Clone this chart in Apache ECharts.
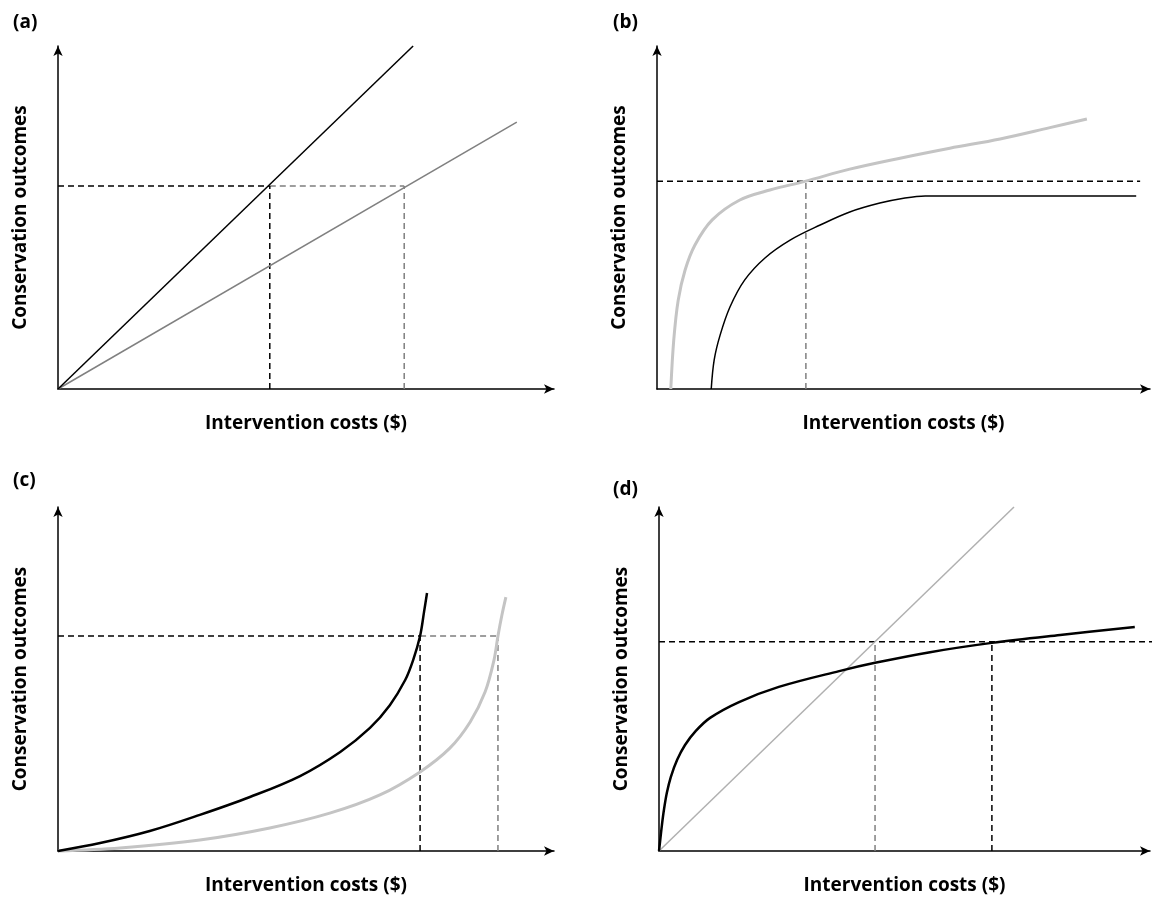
<!DOCTYPE html>
<html>
<head>
<meta charset="utf-8">
<script src="https://cdn.jsdelivr.net/npm/echarts@6/dist/echarts.min.js"></script>
<style>
  html, body { margin: 0; padding: 0; background: #fff; }
  #chart { width: 1157px; height: 897px; }
</style>
</head>
<body>
<div id="chart"></div>
<script>
// panel (a): two straight lines
const aBlack = [[0, 0], [71.6, 100]];
const aGray = [[0, 0], [92.5, 77.8]];
const aTarget = 59.2;
const aBlackCost = 42.7;
const aGrayCost = 69.8;

// panel (b): saturating curves
const bGray = [[2.8, 0], [3.4, 14.3], [4.3, 25.9], [5.7, 34.7], [7.7, 42.0], [11.2, 49.3], [16.8, 55.1],
    [22.9, 58.0], [30.2, 60.6], [39.1, 64.1], [49.3, 67.3], [59.4, 70.2], [69.6, 72.9], [79.7, 76.2], [87.2, 78.7]];
const bBlack = [[11.0, 0], [11.6, 8.5], [12.8, 15.7], [14.8, 23.9], [17.8, 31.8], [21.9, 38.2],
    [27.0, 43.4], [33.1, 47.8], [39.1, 51.6], [45.2, 54.2], [50.3, 55.7], [54.4, 56.3], [97.2, 56.3]];
const bTarget = 60.6;
const bTargetEnd = 98;
const bGrayCost = 30.2;

// panel (c): accelerating curves
const cBlack = [[0, 0], [8.5, 2.3], [18.5, 5.8], [28.6, 10.5], [38.7, 15.7], [48.8, 21.8], [56.9, 28.8],
    [62.9, 35.8], [66.9, 42.4], [70.0, 49.7], [71.6, 55.5], [73.0, 62.5], [73.8, 69.5], [74.4, 75.0]];
const cGray = [[0, 0], [12.5, 0.9], [28.6, 3.2], [42.7, 6.7], [54.8, 11.0], [64.9, 16.3], [73.0, 23.0],
    [79.0, 29.9], [83.1, 37.5], [86.1, 46.2], [87.9, 55.5], [88.7, 62.5], [89.5, 68.6], [90.3, 73.8]];
const cTarget = 62.5;
const cBlackCost = 73.0;
const cGrayCost = 88.7;

// panel (d): straight line vs concave curve
const dGray = [[0, 0], [72.3, 100]];
const dBlack = [[0, 0], [0.3, 3.8], [0.6, 7.6], [1.0, 11.9], [1.6, 16.9], [2.4, 21.5], [3.7, 26.5],
    [5.3, 30.8], [7.5, 34.9], [10.4, 38.7], [16.3, 43.3], [24.4, 47.7], [36.7, 52.3], [44.0, 54.7],
    [55.2, 57.8], [67.8, 60.5], [81.7, 62.8], [96.9, 65.1]];
const dTarget = 60.8;
const dTargetEnd = 101.5;
const dGrayCost = 44.0;
const dBlackCost = 67.8;

const xName = 'Intervention costs ($)';
const yName = 'Conservation outcomes';
const panelLabels = ['(a)', '(b)', '(c)', '(d)'];

const grids = [
    { left: 58, top: 46, width: 496, height: 343 },
    { left: 657, top: 46, width: 493, height: 343 },
    { left: 58, top: 507, width: 496, height: 344 },
    { left: 659, top: 507, width: 491, height: 344 }
];

const FONT = '"Open Sans", "Noto Sans", sans-serif';
const BLACK = '#000000';
const DASH_GRAY = '#7f7f7f';

const axisLine = {
    show: true,
    onZero: false,
    symbol: ['none', 'arrow'],
    symbolSize: [7, 10],
    lineStyle: { color: '#000', width: 1.5 }
};

const titleStyle = { fontFamily: FONT, fontWeight: 'bold', fontSize: 19, color: '#000' };

const xAxes = grids.map((g, i) => ({
    type: 'value', gridIndex: i, min: 0, max: 100,
    axisLine: axisLine, axisTick: { show: false }, axisLabel: { show: false }, splitLine: { show: false },
    name: xName, nameLocation: 'middle', nameGap: 25,
    nameTextStyle: titleStyle
}));

const yAxes = grids.map((g, i) => ({
    type: 'value', gridIndex: i, min: 0, max: 100,
    axisLine: axisLine, axisTick: { show: false }, axisLabel: { show: false }, splitLine: { show: false },
    name: yName, nameLocation: 'middle', nameGap: 28,
    nameTextStyle: titleStyle
}));

const line = (i, data, color, width, opts) => Object.assign({
    type: 'line', xAxisIndex: i, yAxisIndex: i, data: data,
    symbol: 'none', silent: true, clip: false,
    lineStyle: { color: color, width: width }
}, opts || {});

const dashed = (i, data, color) => line(i, data, color, 1.5, {
    lineStyle: { color: color, width: 1.5, type: [6, 4] }
});

const curve = { smooth: 0.35 };

const series = [
    // (a)
    dashed(0, [[0, aTarget], [aBlackCost, aTarget]], BLACK),
    dashed(0, [[aBlackCost, aTarget], [aGrayCost, aTarget]], DASH_GRAY),
    dashed(0, [[aBlackCost, 0], [aBlackCost, aTarget]], BLACK),
    dashed(0, [[aGrayCost, 0], [aGrayCost, aTarget]], DASH_GRAY),
    line(0, aGray, '#808080', 1.5),
    line(0, aBlack, BLACK, 1.5),
    // (b)
    dashed(1, [[0, bTarget], [bTargetEnd, bTarget]], BLACK),
    dashed(1, [[bGrayCost, 0], [bGrayCost, bTarget]], DASH_GRAY),
    line(1, bGray, '#c4c4c4', 3, curve),
    line(1, bBlack, BLACK, 1.5, curve),
    // (c)
    dashed(2, [[0, cTarget], [cBlackCost, cTarget]], BLACK),
    dashed(2, [[cBlackCost, cTarget], [cGrayCost, cTarget]], DASH_GRAY),
    dashed(2, [[cBlackCost, 0], [cBlackCost, cTarget]], BLACK),
    dashed(2, [[cGrayCost, 0], [cGrayCost, cTarget]], DASH_GRAY),
    line(2, cGray, '#c4c4c4', 3, curve),
    line(2, cBlack, BLACK, 2.5, curve),
    // (d)
    dashed(3, [[0, dTarget], [dTargetEnd, dTarget]], BLACK),
    dashed(3, [[dGrayCost, 0], [dGrayCost, dTarget]], DASH_GRAY),
    dashed(3, [[dBlackCost, 0], [dBlackCost, dTarget]], BLACK),
    line(3, dGray, '#b0b0b0', 1.5),
    line(3, dBlack, BLACK, 2.5, curve)
];

const labelPos = [[8, 8], [608, 8], [8, 466], [608, 475]];

const chart = echarts.init(document.getElementById('chart'), null, { renderer: 'canvas' });
chart.setOption({
    backgroundColor: '#ffffff',
    animation: false,
    title: panelLabels.map((t, i) => ({
        text: t, left: labelPos[i][0], top: labelPos[i][1],
        textStyle: { fontFamily: FONT, fontWeight: 'bold', fontSize: 19, color: '#000' }
    })),
    grid: grids,
    xAxis: xAxes,
    yAxis: yAxes,
    series: series
});
</script>
</body>
</html>
